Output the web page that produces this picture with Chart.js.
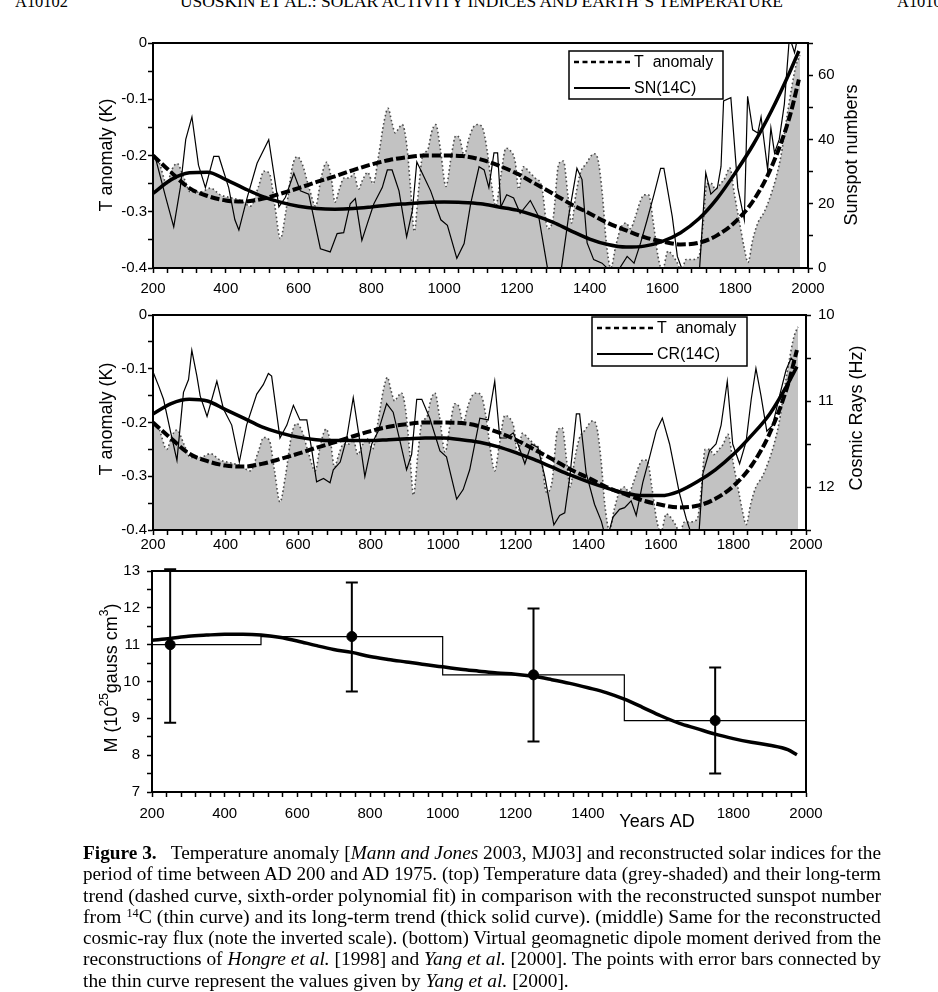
<!DOCTYPE html>
<html>
<head>
<meta charset="utf-8">
<script src="https://cdn.jsdelivr.net/npm/chart.js@4.4.0/dist/chart.umd.min.js"></script>
<style>
    body { margin: 0; background: #fff; }
    #page { position: relative; width: 938px; height: 992px; overflow: hidden; background: #fff; }
    #page canvas { position: absolute; left: 0; }
    .hdr { position: absolute; top: -6px; font: 16px/16px "Liberation Serif", "Times New Roman", serif; white-space: nowrap; transform-origin: 0 0; }
    #caption { position: absolute; left: 83px; top: 842px; font: 19px/21.3px "Liberation Serif", "Times New Roman", serif; color: #000; }
    #caption .cl { white-space: nowrap; height: 21.3px; }
    #caption .cl span { display: inline-block; transform-origin: 0 0; }
    #caption sup { font-size: 0.62em; line-height: 0; vertical-align: 0; position: relative; top: -0.5em; }
</style>
</head>
<body>
<div id="page">
    <div class="hdr" style="left:15px" data-w="53">A10102</div>
    <div class="hdr" style="left:180px" data-w="603">USOSKIN ET AL.: SOLAR ACTIVITY INDICES AND EARTH’S TEMPERATURE</div>
    <div class="hdr" style="left:897px" data-w="53">A10102</div>

    <canvas id="c1" width="938" height="300" style="top:0"></canvas>
    <canvas id="c2" width="938" height="256" style="top:299px"></canvas>
    <canvas id="c3" width="938" height="285" style="top:555px"></canvas>

    <div id="caption">
        <div class="cl"><span><b>Figure 3.</b>&nbsp;&nbsp; Temperature anomaly [<i>Mann and Jones</i> 2003, MJ03] and reconstructed solar indices for the</span></div>
        <div class="cl"><span>period of time between AD 200 and AD 1975. (top) Temperature data (grey-shaded) and their long-term</span></div>
        <div class="cl"><span>trend (dashed curve, sixth-order polynomial fit) in comparison with the reconstructed sunspot number</span></div>
        <div class="cl"><span>from <sup>14</sup>C (thin curve) and its long-term trend (thick solid curve). (middle) Same for the reconstructed</span></div>
        <div class="cl"><span>cosmic-ray flux (note the inverted scale). (bottom) Virtual geomagnetic dipole moment derived from the</span></div>
        <div class="cl"><span>reconstructions of <i>Hongre et al.</i> [1998] and <i>Yang et al.</i> [2000]. The points with error bars connected by</span></div>
        <div class="cl last"><span>the thin curve represent the values given by <i>Yang et al.</i> [2000].</span></div>
    </div>
</div>

<script>
/* ---------- data ---------- */

// MJ03 temperature anomaly (K), grey-shaded in top and middle panels
const tYears = [200, 215, 238, 252, 266, 285, 303, 330, 358, 385, 413, 440, 468, 490, 505, 520, 535, 550, 565, 583,
    596, 610, 630, 647, 662, 677, 690, 700, 712, 725, 740, 752, 765, 775, 790, 805, 820, 835, 846, 856,
    866, 872, 885, 897, 908, 918, 930, 941, 955, 965, 977, 990, 1005, 1020, 1032, 1043, 1055, 1068, 1080, 1092,
    1105, 1118, 1130, 1142, 1155, 1170, 1180, 1195, 1205, 1218, 1235, 1250, 1268, 1285, 1300, 1315, 1328, 1340, 1350, 1362,
    1375, 1390, 1412, 1422, 1435, 1445, 1458, 1472, 1485, 1500, 1512, 1525, 1540, 1550, 1562, 1575, 1588, 1600, 1615, 1625,
    1640, 1652, 1665, 1680, 1700, 1712, 1722, 1735, 1745, 1760, 1772, 1785, 1798, 1812, 1825, 1835, 1848, 1862, 1880, 1898,
    1912, 1926, 1940, 1955, 1967, 1978];
const tAnom = [-0.205, -0.21, -0.25, -0.225, -0.214, -0.24, -0.265, -0.265, -0.258, -0.27, -0.275, -0.28, -0.29, -0.255, -0.228, -0.232, -0.29, -0.348, -0.3, -0.22,
    -0.202, -0.215, -0.26, -0.29, -0.24, -0.212, -0.24, -0.283, -0.26, -0.24, -0.24, -0.232, -0.26, -0.245, -0.23, -0.25, -0.2, -0.14, -0.116, -0.14,
    -0.16, -0.155, -0.145, -0.18, -0.26, -0.335, -0.26, -0.2, -0.19, -0.16, -0.145, -0.19, -0.255, -0.2, -0.165, -0.17, -0.2, -0.17, -0.15, -0.145,
    -0.15, -0.19, -0.25, -0.29, -0.24, -0.187, -0.19, -0.21, -0.26, -0.22, -0.23, -0.24, -0.255, -0.33, -0.31, -0.215, -0.21, -0.27, -0.32, -0.27,
    -0.23, -0.215, -0.197, -0.205, -0.27, -0.35, -0.4, -0.36, -0.33, -0.32, -0.33, -0.31, -0.28, -0.27, -0.27, -0.32, -0.38, -0.405, -0.37, -0.375,
    -0.39, -0.405, -0.385, -0.385, -0.38, -0.32, -0.25, -0.25, -0.26, -0.25, -0.24, -0.222, -0.27, -0.32, -0.365, -0.39, -0.35, -0.32, -0.3, -0.27,
    -0.24, -0.2, -0.14, -0.08, -0.04, -0.022];

// years of the smooth long-term trends
const trendYears = [200, 250, 300, 350, 400, 450, 500, 550, 600, 650, 700, 750, 800, 850, 900, 950, 1000, 1050, 1100,
    1150, 1200, 1250, 1300, 1350, 1400, 1450, 1500, 1550, 1600, 1650, 1700, 1750, 1800, 1850, 1900, 1950, 1975];
const tTrend = [-0.200, -0.230, -0.258, -0.272, -0.280, -0.282, -0.277, -0.268, -0.258, -0.247, -0.237, -0.226, -0.216, -0.208, -0.203, -0.200, -0.200, -0.201, -0.207,
    -0.218, -0.232, -0.250, -0.268, -0.287, -0.303, -0.320, -0.333, -0.345, -0.353, -0.358, -0.355, -0.342, -0.318, -0.280, -0.220, -0.130, -0.065];
const snTrend = [23.2, 27.5, 29.6, 29.8, 27.5, 24.8, 22.3, 20.5, 19.2, 18.5, 18.3, 18.5, 19.0, 19.6, 20.0, 20.4, 20.5, 20.4, 20.0,
    19.0, 18.0, 16.3, 14.2, 11.5, 9.0, 7.3, 6.5, 6.8, 8.3, 11.0, 15.3, 21.6, 29.6, 38.5, 49.0, 61.0, 67.5];
const crTrend = [11.15, 11.03, 10.98, 11.00, 11.10, 11.20, 11.30, 11.37, 11.42, 11.45, 11.46, 11.46, 11.46, 11.45, 11.44, 11.43, 11.43, 11.45, 11.48,
    11.53, 11.60, 11.68, 11.77, 11.86, 11.94, 12.01, 12.07, 12.10, 12.10, 12.05, 11.94, 11.80, 11.62, 11.40, 11.15, 10.80, 10.60];
const dipoleCurve = [11.12, 11.17, 11.23, 11.26, 11.28, 11.28, 11.26, 11.20, 11.10, 10.98, 10.87, 10.79, 10.68, 10.60, 10.53, 10.46, 10.40, 10.33, 10.28,
    10.23, 10.20, 10.14, 10.05, 9.95, 9.83, 9.70, 9.52, 9.30, 9.07, 8.87, 8.72, 8.57, 8.45, 8.35, 8.27, 8.15, 8.01];

// sunspot number reconstructed from 14C (thin curve, top panel)
const snYears = [205, 235, 257, 275, 290, 307, 325, 344, 367, 381, 408, 425, 436, 459, 486, 518, 546, 564, 587, 605,
    628, 660, 687, 706, 724, 742, 756, 774, 789, 807, 830, 844, 857, 876, 897, 913, 925, 940, 963, 991,
    1009, 1035, 1055, 1073, 1096, 1110, 1123, 1137, 1147, 1156, 1172, 1191, 1209, 1237, 1260, 1287, 1320, 1342, 1365, 1379,
    1393, 1411, 1434, 1457, 1480, 1503, 1522, 1540, 1558, 1577, 1595, 1604, 1627, 1641, 1659, 1701, 1719, 1733, 1751, 1761,
    1768, 1788, 1807, 1825, 1834, 1848, 1862, 1871, 1889, 1898, 1908, 1921, 1935, 1949, 1963, 1972];
const snValues = [35, 22, 12.8, 25, 40, 47, 32, 25, 34.7, 34.7, 25, 15, 11.8, 22, 32.6, 39.9, 19, 22, 29.5, 24,
    23, 6, 5, 10.7, 11, 20, 21.6, 8.6, 13.8, 20, 25, 30.5, 30.5, 24, 9.7, 18, 33, 29.5, 24, 15,
    13.3, 3, 7.6, 20, 31.5, 30.5, 25, 35.8, 35.8, 19, 22.8, 21.8, 17, 21, 16, -2, -2, 16, 31, 27.5,
    7.8, 2.6, 1.5, -1, -0.5, 3.6, 1.5, 7.8, 15, 23, 31, 31, 16, 3.6, -2, -2, 29.6, 23, 25, 31.6,
    52, 53, 25, 15, 53.4, 43, 42, 47, 30.6, 43.6, 35.8, 40, 51, 72, 67, 72];

// cosmic-ray flux reconstructed from 14C (thin curve, middle panel, inverted axis)
const crYears = [200, 216, 229, 248, 266, 284, 298, 307, 321, 330, 349, 376, 394, 417, 438, 458, 486, 504, 518, 527,
    550, 569, 587, 605, 624, 638, 651, 670, 688, 697, 716, 734, 752, 766, 784, 803, 821, 844, 862, 881,
    899, 913, 927, 941, 963, 991, 1009, 1037, 1055, 1073, 1101, 1124, 1142, 1156, 1174, 1193, 1206, 1225, 1243, 1261,
    1280, 1294, 1305, 1321, 1335, 1349, 1367, 1376, 1394, 1417, 1436, 1450, 1468, 1486, 1500, 1518, 1532, 1550, 1569, 1587,
    1604, 1624, 1651, 1670, 1688, 1704, 1716, 1734, 1752, 1766, 1783, 1798, 1817, 1835, 1849, 1862, 1876, 1892, 1908, 1927,
    1945, 1959, 1972];
const crValues = [10.66, 10.83, 10.98, 11.35, 11.69, 10.9, 10.75, 10.41, 10.71, 10.94, 11.18, 10.77, 11.09, 11.28, 11.71, 11.28, 10.92, 10.81, 10.68, 10.71,
    11.43, 11.28, 11.05, 11.22, 11.22, 11.58, 11.94, 11.9, 11.95, 11.8, 11.71, 11.43, 10.96, 11.35, 11.88, 11.5, 11.35, 11.03, 11.13, 11.47,
    11.8, 11.62, 10.98, 10.98, 11.2, 11.58, 11.65, 12.14, 12.03, 11.8, 11.2, 11.22, 10.77, 11.43, 11.43, 11.37, 11.5, 11.73, 11.5, 11.54,
    11.88, 12.2, 12.44, 12.33, 12.3, 11.88, 11.15, 11.15, 11.84, 12.2, 12.4, 12.63, 12.35, 12.26, 12.24, 12.16, 12.33, 11.95, 11.65, 11.35,
    11.2, 11.5, 12.07, 12.37, 12.6, 12.6, 11.84, 11.58, 11.5, 11.28, 10.77, 11.5, 11.73, 11.47, 10.98, 10.62, 10.94, 11.35, 11.28, 10.94,
    10.64, 10.5, 10.56];

// Yang et al. [2000] dipole moment points with error bars, and the connecting step curve
const yangYears = [250, 750, 1250, 1750];
const yangM = [11.0, 11.22, 10.18, 8.94];
const yangLow = [8.88, 9.73, 8.37, 7.50];
const yangHigh = [13.05, 12.69, 11.98, 10.38];
const stepYears = [200, 500, 1000, 1500, 2000];
const stepM = [11.0, 11.22, 10.18, 8.94, 8.94];

/* ---------- helpers ---------- */
const FONT = '"Liberation Sans", Arial, sans-serif';
Chart.defaults.font.family = FONT;
Chart.defaults.font.size = 15;
Chart.defaults.color = '#000';
Chart.defaults.animation = false;
Chart.defaults.plugins.legend.display = false;
Chart.defaults.plugins.tooltip.enabled = false;

const pts = (xs, ys) => xs.map((x, i) => ({ x, y: ys[i] }));
const tickGrid = () => ({ display: true, drawOnChartArea: false, drawTicks: true, tickLength: 5, tickWidth: 1.5, tickColor: '#000' });
const axisBorder = { display: true, color: '#000', width: 2 };

// year axis: ticks every 40 years, labels every 200 (some panels leave one out)
function xAxis(height, pad, hide) {
    const skip = hide || [];
    return {
        type: 'linear', position: 'bottom', min: 200, max: 2000,
        grid: tickGrid(), border: axisBorder,
        ticks: { stepSize: 40, maxTicksLimit: 100, autoSkip: false, maxRotation: 0, padding: pad,
            callback: v => (v % 200 === 0 && !skip.includes(v) ? String(v) : '') },
        afterFit: s => { s.height = height; }
    };
}
function yAxis(pos, min, max, step, width, pad, label, reverse) {
    return {
        type: 'linear', position: pos, min, max, reverse: !!reverse,
        grid: tickGrid(), border: axisBorder,
        ticks: { stepSize: step, maxTicksLimit: 100, autoSkip: false, padding: pad, callback: label },
        afterFit: s => { s.width = width; }
    };
}
const tLabel = v => { const r = Math.round(v * 100); return r % 10 === 0 ? (r === 0 ? '0' : (r / 100).toFixed(1)) : ''; };
const intLabel = v => (Math.abs(v - Math.round(v)) < 1e-6 ? String(Math.round(v)) : '');

// closed box round the plot area
const framePlugin = {
    id: 'frame',
    afterDatasetsDraw(chart) {
        const { ctx, chartArea: a } = chart;
        ctx.save();
        ctx.strokeStyle = '#000'; ctx.lineWidth = 2;
        ctx.strokeRect(a.left, a.top, a.right - a.left, a.bottom - a.top);
        ctx.restore();
    }
};

// axis titles (rotated, with optional superscripts)
const textPlugin = {
    id: 'texts',
    afterDraw(chart, args, opts) {
        const ctx = chart.ctx;
        (opts.items || []).forEach(it => {
            const parts = it.parts || [[it.text, false]];
            const fontOf = sup => `${sup ? Math.round(it.size * 0.65) : it.size}px ${FONT}`;
            ctx.save();
            ctx.translate(it.x, it.y);
            if (it.rot) ctx.rotate(it.rot);
            ctx.fillStyle = '#000'; ctx.textBaseline = 'middle'; ctx.textAlign = 'left';
            let total = 0;
            parts.forEach(([t, sup]) => { ctx.font = fontOf(sup); total += ctx.measureText(t).width; });
            let x = -total / 2;
            parts.forEach(([t, sup]) => {
                ctx.font = fontOf(sup);
                ctx.fillText(t, x, sup ? -it.size * 0.42 : 0);
                x += ctx.measureText(t).width;
            });
            ctx.restore();
        });
    }
};

// boxed legend inside the plot
const boxLegend = {
    id: 'boxLegend',
    afterDraw(chart, args, o) {
        if (!o.rows) return;
        const ctx = chart.ctx;
        ctx.save();
        ctx.fillStyle = '#fff';
        ctx.fillRect(o.x, o.y, o.w, o.h);
        ctx.strokeStyle = '#000'; ctx.lineWidth = 1.5;
        ctx.strokeRect(o.x, o.y, o.w, o.h);
        ctx.font = `16px ${FONT}`; ctx.textBaseline = 'middle'; ctx.fillStyle = '#000';
        o.rows.forEach(r => {
            const y = o.y + r.dy;
            ctx.beginPath();
            ctx.setLineDash(r.dash ? [5, 3.5] : []);
            ctx.lineWidth = r.dash ? 2.5 : 2;
            ctx.moveTo(o.x + 5, y); ctx.lineTo(o.x + 61, y);
            ctx.stroke();
            ctx.fillText(r.label, o.x + 65, y + 1);
        });
        ctx.restore();
    }
};

// vertical error bars for the Yang et al. points
const errorBars = {
    id: 'errorBars',
    afterDatasetsDraw(chart) {
        const { ctx, scales } = chart;
        ctx.save();
        ctx.strokeStyle = '#000'; ctx.lineWidth = 2;
        yangYears.forEach((yr, i) => {
            const px = scales.x.getPixelForValue(yr);
            const top = scales.y.getPixelForValue(yangHigh[i]);
            const bot = scales.y.getPixelForValue(yangLow[i]);
            ctx.beginPath();
            ctx.moveTo(px, top); ctx.lineTo(px, bot);
            ctx.moveTo(px - 6, top); ctx.lineTo(px + 6, top);
            ctx.moveTo(px - 6, bot); ctx.lineTo(px + 6, bot);
            ctx.stroke();
        });
        ctx.restore();
    }
};

const greyT = yID => ({
    label: 'T anomaly', data: pts(tYears, tAnom), yAxisID: yID, order: 9,
    fill: 'start', backgroundColor: '#c2c2c2', borderColor: '#4a4a4a', borderWidth: 1.6, borderDash: [1.6, 2.6],
    pointRadius: 0, cubicInterpolationMode: 'monotone'
});
const dashedTrend = yID => ({
    label: 'T trend', data: pts(trendYears, tTrend), yAxisID: yID, order: 0,
    borderColor: '#000', borderWidth: 4, borderDash: [9, 3], pointRadius: 0, cubicInterpolationMode: 'monotone'
});

/* ---------- top: temperature vs sunspot number ---------- */
new Chart(document.getElementById('c1'), {
    type: 'line',
    data: { datasets: [
        { label: 'SN(14C)', data: pts(snYears, snValues), yAxisID: 'ySN', order: 2, borderColor: '#000', borderWidth: 1.2, pointRadius: 0 },
        { label: 'SN trend', data: pts(trendYears, snTrend), yAxisID: 'ySN', order: 1, borderColor: '#000', borderWidth: 3.5, pointRadius: 0, cubicInterpolationMode: 'monotone' },
        dashedTrend('y'),
        greyT('y')
    ] },
    options: {
        responsive: false,
        layout: { padding: { left: 0, right: 0, top: 43, bottom: 0 } },
        scales: {
            x: xAxis(32, 7),
            y: yAxis('left', -0.4, 0, 0.05, 153, 1, tLabel),
            ySN: yAxis('right', 0, 70, 10, 130, 5, v => (v % 20 === 0 ? String(v) : ''))
        },
        plugins: {
            texts: { items: [
                { text: 'T anomaly (K)', x: 107, y: 155, rot: -Math.PI / 2, size: 18 },
                { text: 'Sunspot numbers', x: 852, y: 155, rot: -Math.PI / 2, size: 18 }
            ] },
            boxLegend: { x: 569, y: 51, w: 154, h: 48, rows: [
                { label: 'T  anomaly', dash: true, dy: 11 },
                { label: 'SN(14C)', dash: false, dy: 37 }
            ] }
        }
    },
    plugins: [framePlugin, textPlugin, boxLegend]
});

/* ---------- middle: temperature vs cosmic rays ---------- */
new Chart(document.getElementById('c2'), {
    type: 'line',
    data: { datasets: [
        { label: 'CR(14C)', data: pts(crYears, crValues), yAxisID: 'yCR', order: 2, borderColor: '#000', borderWidth: 1.2, pointRadius: 0 },
        { label: 'CR trend', data: pts(trendYears, crTrend), yAxisID: 'yCR', order: 1, borderColor: '#000', borderWidth: 3.5, pointRadius: 0, cubicInterpolationMode: 'monotone' },
        dashedTrend('y'),
        greyT('y')
    ] },
    options: {
        responsive: false,
        layout: { padding: { left: 0, right: 0, top: 9, bottom: 0 } },
        scales: {
            x: xAxis(25, 1),
            y: yAxis('left', -0.4, 0, 0.05, 153, 1, tLabel),
            yCR: yAxis('right', 10, 12.5, 0.5, 132, 7, intLabel, true)
        },
        plugins: {
            texts: { items: [
                { text: 'T anomaly (K)', x: 107, y: 120, rot: -Math.PI / 2, size: 18 },
                { text: 'Cosmic Rays (Hz)', x: 857, y: 119, rot: -Math.PI / 2, size: 18 }
            ] },
            boxLegend: { x: 592, y: 18, w: 155, h: 49, rows: [
                { label: 'T  anomaly', dash: true, dy: 11 },
                { label: 'CR(14C)', dash: false, dy: 37 }
            ] }
        }
    },
    plugins: [framePlugin, textPlugin, boxLegend]
});

/* ---------- bottom: geomagnetic dipole moment ---------- */
new Chart(document.getElementById('c3'), {
    type: 'line',
    data: { datasets: [
        { label: 'dipole', data: pts(trendYears, dipoleCurve), order: 1, borderColor: '#000', borderWidth: 3.5, pointRadius: 0, cubicInterpolationMode: 'monotone' },
        { label: 'Yang steps', data: pts(stepYears, stepM), order: 2, borderColor: '#000', borderWidth: 1.2, pointRadius: 0, stepped: true },
        { label: 'Yang points', data: pts(yangYears, yangM), order: 0, showLine: false, pointRadius: 5, pointBackgroundColor: '#000', pointBorderColor: '#000', clip: false }
    ] },
    options: {
        responsive: false,
        layout: { padding: { left: 0, right: 132, top: 10, bottom: 0 } },
        scales: {
            x: xAxis(48, 8, [1600]),
            y: yAxis('left', 7, 13, 0.5, 152, 7, intLabel)
        },
        plugins: {
            texts: { items: [
                { parts: [['M (10', false], ['25', true], ['gauss cm', false], ['3', true], [')', false]], x: 112, y: 123, rot: -Math.PI / 2, size: 18 },
                { text: 'Years AD', x: 657, y: 267, size: 18 }
            ] }
        }
    },
    plugins: [framePlugin, errorBars, textPlugin]
});

/* ---------- fit header and caption lines to the page width ---------- */
document.querySelectorAll('.hdr').forEach(el => {
    const w = +el.dataset.w;
    el.style.transform = `scaleX(${w / el.getBoundingClientRect().width})`;
});
const lines = [...document.querySelectorAll('#caption .cl span')];
let k = 0, n = 0;
lines.forEach(sp => {
    if (sp.parentNode.classList.contains('last')) return;
    const f = 798 / sp.getBoundingClientRect().width;
    sp.style.transform = `scaleX(${f})`;
    k += f; n++;
});
lines[lines.length - 1].style.transform = `scaleX(${k / n})`;
</script>
</body>
</html>
